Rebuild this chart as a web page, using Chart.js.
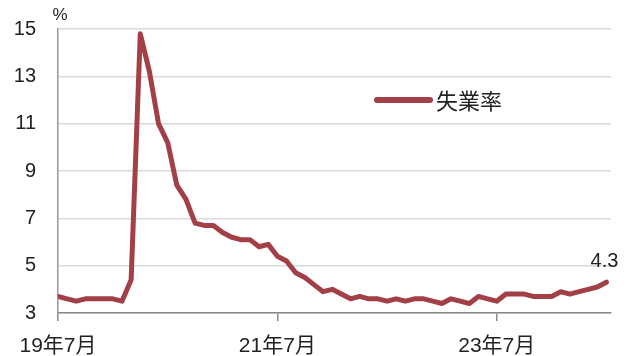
<!DOCTYPE html>
<html><head><meta charset="utf-8">
<script src="https://cdn.jsdelivr.net/npm/chart.js@4"></script>
<style>html,body{margin:0;padding:0;background:#fff}#wrap{width:632px;height:356px}</style>
</head><body><div id="wrap"><canvas id="c" width="632" height="356"></canvas></div>
<script>
const seriesLabel = "失業率";
const unit = "%";
// monthly values, 2019-07 .. 2024-07
const months = ["19年7月","19年8月","19年9月","19年10月","19年11月","19年12月",
"20年1月","20年2月","20年3月","20年4月","20年5月","20年6月","20年7月","20年8月","20年9月","20年10月","20年11月","20年12月",
"21年1月","21年2月","21年3月","21年4月","21年5月","21年6月","21年7月","21年8月","21年9月","21年10月","21年11月","21年12月",
"22年1月","22年2月","22年3月","22年4月","22年5月","22年6月","22年7月","22年8月","22年9月","22年10月","22年11月","22年12月",
"23年1月","23年2月","23年3月","23年4月","23年5月","23年6月","23年7月","23年8月","23年9月","23年10月","23年11月","23年12月",
"24年1月","24年2月","24年3月","24年4月","24年5月","24年6月","24年7月"];
const unemployment = [3.7,3.6,3.5,3.6,3.6,3.6,
3.6,3.5,4.4,14.8,13.2,11.0,10.2,8.4,7.8,6.8,6.7,6.7,
6.4,6.2,6.1,6.1,5.8,5.9,5.4,5.2,4.7,4.5,4.2,3.9,
4.0,3.8,3.6,3.7,3.6,3.6,3.5,3.6,3.5,3.6,3.6,3.5,
3.4,3.6,3.5,3.4,3.7,3.6,3.5,3.8,3.8,3.8,3.7,3.7,
3.7,3.9,3.8,3.9,4.0,4.1,4.3];
const xTickLabels = ["19年7月","21年7月","23年7月"];
const yTicks = [3,5,7,9,11,13,15];

const FONT = '"Liberation Sans","Noto Sans CJK JP",sans-serif';
const COLOR = '#A23F47';
const pts = unemployment.map((v,i)=>({x:i,y:v}));
const xTickIdx = xTickLabels.map(l=>months.indexOf(l));

const overlay = {
  id:'overlay',
  afterDatasetsDraw(chart){
    const ctx = chart.ctx, xs = chart.scales.x, ys = chart.scales.y;
    ctx.save();
    ctx.fillStyle = '#222';
    ctx.font = '17px ' + FONT;
    ctx.textAlign = 'center'; ctx.textBaseline = 'middle';
    ctx.fillText(unit, xs.left + 2, ys.top - 14);
    const n = unemployment.length - 1;
    const lx = xs.getPixelForValue(n), ly = ys.getPixelForValue(unemployment[n]);
    ctx.font = '20px ' + FONT;
    ctx.textAlign = 'center'; ctx.textBaseline = 'alphabetic';
    ctx.fillText(unemployment[n].toFixed(1), lx - 2, ly - 15);
    ctx.strokeStyle = COLOR; ctx.lineWidth = 6; ctx.lineCap = 'round';
    ctx.beginPath(); ctx.moveTo(377, 100); ctx.lineTo(430, 100); ctx.stroke();
    ctx.font = '22px "Noto Sans CJK JP",sans-serif';
    ctx.textAlign = 'left'; ctx.textBaseline = 'middle';
    ctx.fillStyle = '#222';
    ctx.fillText(seriesLabel, 436, 101);
    ctx.restore();
  }
};

new Chart(document.getElementById('c'), {
  type:'line',
  data:{datasets:[{label:seriesLabel,data:pts,borderColor:COLOR,borderWidth:5,pointRadius:0,tension:0,fill:false,borderJoinStyle:'round',borderCapStyle:'round'}]},
  options:{
    responsive:false, animation:false, devicePixelRatio:1,
    layout:{padding:{top:29,right:21,left:0,bottom:0}},
    plugins:{legend:{display:false},tooltip:{enabled:false}},
    scales:{
      x:{type:'linear',min:0,max:60.5,
        afterBuildTicks(s){ s.ticks = xTickIdx.map(v=>({value:v})); },
        afterFit(s){ s.height = 43; s.paddingTop = 0; s.paddingBottom = 0; },
        grid:{display:true,drawOnChartArea:false,drawTicks:true,tickLength:8,color:'#888',lineWidth:1.5},
        border:{display:true,color:'#888',width:1.5},
        ticks:{autoSkip:false,maxRotation:0,padding:13,color:'#222',font:{family:FONT,size:21},
          callback(v){ const i = xTickIdx.indexOf(v); return i>=0 ? xTickLabels[i] : ''; }}
      },
      y:{min:3,max:15,
        afterBuildTicks(s){ s.ticks = yTicks.map(v=>({value:v})); },
        afterFit(s){ s.width = 58; s.paddingTop = 0; s.paddingBottom = 0; },
        grid:{color:'#d9d9d9',lineWidth:1.5,drawTicks:false},
        border:{display:true,color:'#999',width:1.5},
        ticks:{padding:22,color:'#222',font:{family:FONT,size:20}}
      }
    }
  },
  plugins:[overlay]
});
</script></body></html>
